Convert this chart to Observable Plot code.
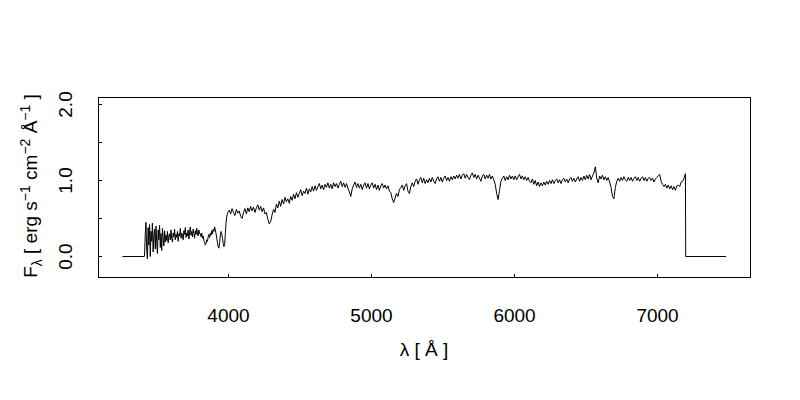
<!DOCTYPE html>
<html><head><meta charset="utf-8">
<script src="https://cdn.jsdelivr.net/npm/d3@7"></script>
<script src="https://cdn.jsdelivr.net/npm/@observablehq/plot@0.6"></script>
<style>body{margin:0;background:#fff} svg{display:block}</style>
</head><body><div id="chart"></div>
<script>
const blueStart = 3413, blueStep = 5;
const blueFlux = [
  // 3413–3558
  0.02,0.30,0.45,0.08,-0.03,0.38,0.15,0.42,0.00,0.33,0.20,0.44,0.06,0.28,0.36,0.10,0.40,0.18,0.04,0.35,
  0.22,0.41,0.12,0.30,0.08,0.37,0.25,0.14,0.34,0.19,
  // 3563–3798
  0.28,0.21,0.33,0.18,0.27,0.30,0.22,0.35,0.24,0.19,0.31,0.26,0.36,0.22,0.29,0.25,0.33,0.20,0.30,0.27,
  0.37,0.24,0.31,0.28,0.22,0.34,0.29,0.38,0.25,0.31,0.27,0.35,0.23,0.32,0.39,0.28,0.33,0.26,0.36,0.30,
  0.24,0.34,0.29,0.37,0.31,0.27,0.35,0.30,
  // 3803–3998
  0.30,0.26,0.31,0.24,0.27,0.21,0.19,0.15,0.17,0.22,0.20,0.26,0.29,0.25,0.31,0.28,0.34,0.30,0.36,0.33,
  0.39,0.35,0.30,0.24,0.18,0.13,0.11,0.18,0.28,0.33,0.30,0.24,0.17,0.13,0.16,0.30,0.45,0.53,0.57,0.59
];
// Red part, sampled every 10 Å from 4005 Å
const redStart = 4005, redStep = 10;
const redFlux = [
  // 4005–4295
  0.61,0.56,0.63,0.58,0.54,0.62,0.57,0.60,0.53,0.50,0.58,0.63,0.56,0.64,0.59,0.66,0.60,0.65,0.58,0.64,
  0.68,0.61,0.66,0.59,0.64,0.56,0.58,0.49,0.43,0.46,
  // 4305–4595
  0.55,0.62,0.58,0.69,0.64,0.73,0.66,0.75,0.69,0.78,0.72,0.76,0.70,0.79,0.74,0.82,0.76,0.84,0.78,0.83,
  0.88,0.80,0.86,0.83,0.90,0.82,0.89,0.85,0.92,0.86,
  // 4605–4995
  0.93,0.87,0.92,0.96,0.89,0.94,0.88,0.95,0.91,0.97,0.90,0.95,0.89,0.97,0.92,0.96,0.90,0.95,0.99,0.92,
  0.97,0.91,0.96,0.90,0.85,0.79,0.89,0.94,0.98,0.91,0.96,0.90,0.95,0.88,0.94,0.97,0.90,0.96,0.89,0.94,
  // 5005–5195
  0.97,0.90,0.95,0.88,0.94,0.87,0.93,0.96,0.90,0.94,0.89,0.93,0.86,0.84,0.76,0.71,0.77,0.83,0.79,0.88,
  // 5205–5595
  0.91,0.94,0.87,0.93,0.96,0.86,0.83,0.92,0.97,0.92,0.99,1.02,0.95,1.01,1.04,0.97,1.03,0.96,1.01,0.97,
  1.03,0.98,1.04,0.99,0.96,1.02,1.05,0.99,1.04,0.98,1.03,1.06,1.00,1.04,0.99,1.05,1.01,1.06,1.02,1.07,
  // 5605–5995
  1.03,1.08,1.02,1.07,1.09,1.03,1.08,1.04,1.01,1.07,1.10,1.04,1.08,1.02,1.07,1.03,0.99,1.06,1.08,1.02,
  1.07,1.03,1.08,1.02,1.06,1.01,0.95,0.83,0.75,0.87,0.99,1.03,1.06,1.00,1.05,1.01,1.07,1.02,1.06,1.01,
  // 6005–6395
  1.06,1.01,1.05,1.08,1.02,1.06,1.01,1.05,1.00,1.04,0.99,0.97,1.02,0.95,1.00,0.93,0.98,0.92,0.97,0.93,
  0.98,0.94,0.99,0.95,1.00,0.96,1.01,0.96,1.00,1.02,0.97,1.01,0.96,1.01,1.03,0.98,1.02,0.97,1.02,1.04,
  // 6405–6795
  0.99,1.03,0.98,1.02,1.05,0.99,1.04,1.00,1.06,1.01,1.07,1.02,1.08,1.01,1.06,1.10,1.18,1.03,0.97,1.06,
  1.02,1.07,1.01,1.05,1.00,1.04,0.98,0.91,0.79,0.76,0.91,0.99,1.03,0.99,1.04,1.00,1.05,1.01,0.99,1.04,
  // 6805–7195
  1.00,1.04,0.99,1.03,1.05,1.00,1.04,0.99,1.03,1.05,1.00,1.04,0.99,1.03,1.04,1.00,1.03,0.98,1.02,1.04,
  1.06,1.08,0.99,0.95,0.92,0.95,0.90,0.94,0.89,0.93,0.88,0.92,0.87,0.93,0.94,0.92,0.98,0.99,1.03,1.09
];
// zero-flux padding before and after the observed range
const padLeftWave = [3261, 3411];
const padRightWave = [7197, 7476];

const xTicks = [4000, 5000, 6000, 7000];
const yTicks = [0, 0.5, 1, 1.5, 2];
const yLabels = [0, 1, 2];

const rows = [
  ...padLeftWave.map(w => ({wave: w, flux: 0})),
  ...blueFlux.map((f, i) => ({wave: blueStart + i * blueStep, flux: f})),
  ...redFlux.map((f, i) => ({wave: redStart + i * redStep, flux: f})),
  ...padRightWave.map(w => ({wave: w, flux: 0}))
];

const font = "'Liberation Sans', Arial, sans-serif";
const fs = 19;
const chart = Plot.plot({
  width: 800, height: 400,
  marginLeft: 98, marginRight: 50, marginTop: 97, marginBottom: 123,
  x: {domain: [3091, 7650]},
  y: {domain: [-0.276, 2.092]},
  style: {fontFamily: font, background: "white", color: "black"},
  marks: [
    Plot.axisX({ticks: xTicks, tickSize: -3, tickFormat: () => "", label: null}),
    Plot.axisX({ticks: xTicks, tickSize: 0, tickPadding: 31, fontSize: fs, tickFormat: d => String(d), label: null}),
    Plot.axisY({ticks: yTicks, tickSize: -4, tickFormat: () => "", label: null}),
    Plot.axisY({ticks: yLabels, tickSize: 0, tickPadding: 27, tickRotate: -90, fontSize: fs, tickFormat: d3.format(".1f"), label: null}),
    Plot.line(rows, {x: "wave", y: "flux", stroke: "black", strokeWidth: 1}),
    Plot.frame({stroke: "black"})
  ]
});
document.getElementById("chart").appendChild(chart);

const svg = d3.select(chart);
// x title
svg.append("text")
  .attr("x", 424).attr("y", 356)
  .attr("text-anchor", "middle")
  .style("font-family", font).style("font-size", fs + "px")
  .text("λ [ Å ]");
// y title with sub/superscripts
const yt = svg.append("text")
  .attr("transform", "translate(37,186) rotate(-90)")
  .attr("text-anchor", "middle")
  .style("font-family", font).style("font-size", fs + "px");
const parts = [
  ["F", 0, fs], ["λ", 5, 14], [" [ erg s", -5, fs], ["−1", -7, 14], [" cm", 7, fs],
  ["−2", -7, 14], [" Å", 7, fs], ["−1", -7, 14], [" ]", 7, fs]
];
parts.forEach(([t, dy, size]) => {
  yt.append("tspan").attr("dy", dy).style("font-size", size + "px").text(t);
});
</script>
</body></html>
